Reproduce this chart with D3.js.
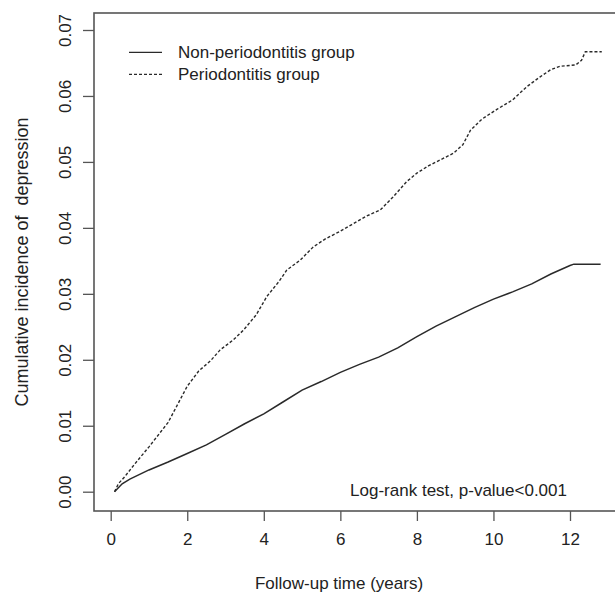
<!DOCTYPE html>
<html>
<head>
<meta charset="utf-8">
<script src="https://cdn.jsdelivr.net/npm/d3@7"></script>
<style>
  body { margin: 0; background: #fff; }
  svg { display: block; }
  text { font-family: "Liberation Sans", Arial, sans-serif; fill: #222; }
</style>
</head>
<body>
<svg id="chart" width="615" height="594"></svg>
<script>
// follow-up years and cumulative incidence
var nonTime = [0.1, 0.3, 0.5, 1.0, 1.5, 2.0, 2.5, 3.0, 3.5, 4.0, 4.5, 5.0, 5.5, 6.0, 6.5, 7.0, 7.5, 8.0, 8.5, 9.0, 9.5, 10.0, 10.5, 11.0, 11.5, 12.0, 12.1, 12.8];
var nonValue = [0, 0.0012, 0.0019, 0.0033, 0.0045, 0.0058, 0.0071, 0.0087, 0.0103, 0.0118, 0.0136, 0.0154, 0.0167, 0.0181, 0.0193, 0.0204, 0.0218, 0.0235, 0.0251, 0.0265, 0.0279, 0.0292, 0.0303, 0.0315, 0.0330, 0.0343, 0.0345, 0.0345];

var perTime = [0.1, 0.2, 0.37, 0.6, 1.0, 1.5, 2.0, 2.3, 2.6, 2.86, 3.2, 3.47, 3.8, 4.08, 4.4, 4.6, 4.95, 5.29, 5.6, 6.0, 6.3, 6.69, 7.04, 7.38, 7.73, 8.0, 8.3, 8.95, 9.2, 9.4, 9.7, 10.1, 10.5, 10.87, 11.22, 11.5, 11.74, 12.15, 12.3, 12.4, 12.83];
var perValue = [0, 0.0012, 0.0023, 0.0040, 0.0068, 0.0105, 0.0160, 0.0183, 0.0198, 0.0215, 0.0230, 0.0245, 0.0268, 0.0296, 0.0319, 0.0336, 0.0351, 0.0371, 0.0383, 0.0395, 0.0405, 0.0418, 0.0427, 0.0447, 0.0470, 0.0483, 0.0494, 0.0513, 0.0526, 0.0548, 0.0565, 0.0580, 0.0594, 0.0614, 0.0629, 0.0640, 0.0645, 0.0647, 0.0654, 0.0667, 0.0667];

var xTicks = [0, 2, 4, 6, 8, 10, 12];
var yTicks = [0, 0.01, 0.02, 0.03, 0.04, 0.05, 0.06, 0.07];
var legendLabels = ['Non-periodontitis group', 'Periodontitis group'];

function drawChart() {
    var svg = d3.select('#chart');
    var axisCol = '#555';
    var lineCol = '#2a2a2a';
    var fs = '17px';

    var x = d3.scaleLinear().domain([0, 12]).range([110.7, 570]);
    var y = d3.scaleLinear().domain([0, 0.07]).range([491.7, 30]);

    var box = { left: 94, top: 13, right: 630, bottom: 511 };

    // plot frame
    svg.append('rect')
        .attr('x', box.left)
        .attr('y', box.top)
        .attr('width', box.right - box.left)
        .attr('height', box.bottom - box.top)
        .attr('fill', 'none')
        .attr('stroke', axisCol)
        .attr('stroke-width', 1.6);

    // x axis
    var xAxis = svg.append('g')
        .attr('transform', 'translate(0,' + box.bottom + ')')
        .call(d3.axisBottom(x).tickValues(xTicks).tickSize(10).tickPadding(12).tickFormat(d3.format('d')));
    xAxis.select('.domain').remove();
    xAxis.selectAll('line').attr('stroke', axisCol).attr('stroke-width', 1.3);
    xAxis.selectAll('text').style('font-size', fs).attr('fill', '#222');

    // y axis, labels rotated like R's default
    var yAxis = svg.append('g')
        .attr('transform', 'translate(' + box.left + ',0)')
        .call(d3.axisLeft(y).tickValues(yTicks).tickSize(11).tickFormat(d3.format('.2f')));
    yAxis.select('.domain').remove();
    yAxis.selectAll('line').attr('stroke', axisCol).attr('stroke-width', 1.3);
    yAxis.selectAll('text')
        .style('font-size', fs)
        .attr('fill', '#222')
        .attr('x', 0)
        .attr('y', -23)
        .attr('dy', null)
        .attr('text-anchor', 'middle')
        .attr('transform', 'rotate(-90)');

    // axis titles
    svg.append('text')
        .text('Follow-up time (years)')
        .attr('x', 339)
        .attr('y', 589)
        .attr('text-anchor', 'middle')
        .style('font-size', fs);
    svg.append('text')
        .text('Cumulative incidence of  depression')
        .attr('text-anchor', 'middle')
        .attr('transform', 'translate(28,' + ((box.top + box.bottom) / 2) + ') rotate(-90)')
        .style('font-size', '18px')
        .style('white-space', 'pre');

    var line = d3.line()
        .x(function (d) { return x(d[0]); })
        .y(function (d) { return y(d[1]); });

    svg.append('path')
        .datum(d3.zip(nonTime, nonValue))
        .attr('d', line)
        .attr('fill', 'none')
        .attr('stroke', lineCol)
        .attr('stroke-width', 1.5);

    svg.append('path')
        .datum(d3.zip(perTime, perValue))
        .attr('d', line)
        .attr('fill', 'none')
        .attr('stroke', lineCol)
        .attr('stroke-width', 1.4)
        .attr('stroke-dasharray', '3,2');

    // legend
    var dashes = [null, '3,2'];
    for (var i = 0; i < legendLabels.length; i++) {
        var ly = 52.3 + i * 22;
        svg.append('line')
            .attr('x1', 129).attr('x2', 162)
            .attr('y1', ly).attr('y2', ly)
            .attr('stroke', lineCol)
            .attr('stroke-width', 1.2)
            .attr('stroke-dasharray', dashes[i]);
        svg.append('text')
            .text(legendLabels[i])
            .attr('x', 178)
            .attr('y', ly + 6)
            .style('font-size', fs);
    }

    svg.append('text')
        .text('Log-rank test, p-value<0.001')
        .attr('x', 567)
        .attr('y', 496)
        .attr('text-anchor', 'end')
        .style('font-size', fs);
}

window.onload = drawChart;
</script>
</body>
</html>
